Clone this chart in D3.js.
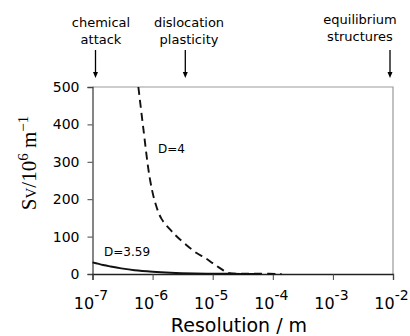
<!DOCTYPE html>
<html>
<head>
<meta charset="utf-8">
<script src="https://cdn.jsdelivr.net/npm/d3@7"></script>
<style>
  body { margin: 0; background: #fff; }
  svg { display: block; }
</style>
</head>
<body>
<div id="chart"></div>
<script>
// data
const resD4 = [5.8e-7, 7e-7, 9e-7, 1.1e-6, 1.4e-6, 2e-6, 2.5e-6, 3.5e-6, 5.4e-6, 7.5e-6, 1e-5, 1.4e-5, 1.8e-5, 3e-5, 6e-5, 1.4e-4]
const svD4 = [500, 390, 255, 192, 148, 117, 101, 80, 56, 43, 29, 13, 3, 1, 0.6, 0.4]
const resD359 = [1e-7, 1.5e-7, 2e-7, 3e-7, 5e-7, 1e-6, 2e-6, 5e-6, 1e-5, 2e-5, 5e-5]
const svD359 = [31, 24, 20, 15, 10, 6, 3.5, 1.6, 0.9, 0.5, 0.2]
const xTicks = [1e-7, 1e-6, 1e-5, 1e-4, 1e-3, 1e-2]
const yTicks = [0, 100, 200, 300, 400, 500]
const notes = [
    { lines: ['chemical', 'attack'], at: 1e-7 },
    { lines: ['dislocation', 'plasticity'], at: 3.5e-6 },
    { lines: ['equilibrium', 'structures'], at: 1e-2 }
]

let width = 410, height = 336
let margin = { top: 87, right: 17, bottom: 62, left: 92 }

let svg = d3.select('#chart').append('svg')
    .attr('width', width)
    .attr('height', height)

let x = d3.scaleLog()
    .domain([1e-7, 1e-2])
    .range([margin.left + 0.5, width - margin.right])
let y = d3.scaleLinear()
    .domain([0, 500])
    .range([height - margin.bottom, margin.top])

// box (top + right in grey)
svg.append('path')
    .attr('d', `M${x(1e-7)},${y(500)}H${x(1e-2)}V${y(0)}`)
    .attr('fill', 'none')
    .attr('stroke', '#999')
    .attr('stroke-width', 1.2)

// y axis
let yAxis = svg.append('g')
    .attr('transform', `translate(${x(1e-7)},0)`)
    .call(d3.axisLeft(y).tickValues(yTicks).tickSize(5).tickPadding(8))
yAxis.select('.domain').attr('stroke', '#444').attr('stroke-width', 1.3)
yAxis.selectAll('.tick line').attr('stroke', '#444')
yAxis.selectAll('.tick text')
    .attr('font-family', 'DejaVu Sans, Verdana, sans-serif')
    .attr('font-size', 14)
    .attr('fill', '#000')

// x axis
let xAxis = svg.append('g')
    .attr('transform', `translate(0,${y(0)})`)
    .call(d3.axisBottom(x).tickValues(xTicks).tickSize(6).tickFormat(''))
xAxis.select('.domain').attr('stroke', '#222').attr('stroke-width', 1.3)
xAxis.selectAll('.tick line').attr('stroke', '#444')
xAxis.selectAll('.tick').each(function (d) {
    let t = d3.select(this).append('text')
        .attr('y', 35)
        .attr('x', -2)
        .attr('text-anchor', 'middle')
        .attr('font-family', 'DejaVu Sans, Verdana, sans-serif')
        .attr('font-size', 16)
        .attr('fill', '#000')
    t.append('tspan').text('10')
    t.append('tspan').attr('dy', -9).attr('font-size', 14)
        .text('-' + Math.round(-Math.log10(d)))
})

// curves
let line = d3.line()
    .x(d => x(d[0]))
    .y(d => y(d[1]))
    .curve(d3.curveCatmullRom)

svg.append('path')
    .datum(d3.zip(resD359, svD359))
    .attr('d', line)
    .attr('fill', 'none')
    .attr('stroke', '#111')
    .attr('stroke-width', 1.9)

svg.append('path')
    .datum(d3.zip(resD4, svD4))
    .attr('d', line)
    .attr('fill', 'none')
    .attr('stroke', '#111')
    .attr('stroke-width', 1.9)
    .attr('stroke-dasharray', '8,5')

// curve labels
svg.append('text')
    .attr('x', 158).attr('y', 153)
    .attr('font-family', 'DejaVu Sans, Verdana, sans-serif')
    .attr('font-size', 12)
    .text('D=4')
svg.append('text')
    .attr('x', 104).attr('y', 256)
    .attr('font-family', 'DejaVu Sans, Verdana, sans-serif')
    .attr('font-size', 12)
    .text('D=3.59')

// axis titles
svg.append('text')
    .attr('transform', 'translate(36,163) rotate(-90)')
    .attr('text-anchor', 'middle')
    .attr('font-family', 'Liberation Serif, DejaVu Serif, serif')
    .attr('font-size', 21)
    .call(t => {
        t.append('tspan').text('S')
        t.append('tspan').attr('font-size', 15).text('V')
        t.append('tspan').text('/10')
        t.append('tspan').attr('dy', -8).attr('font-size', 15).text('6')
        t.append('tspan').attr('dy', 8).text(' m')
        t.append('tspan').attr('dy', -8).attr('font-size', 15).text('\u22121')
    })

svg.append('text')
    .attr('x', 239).attr('y', 332)
    .attr('text-anchor', 'middle')
    .attr('font-family', 'DejaVu Sans, Verdana, sans-serif')
    .attr('font-size', 19)
    .text('Resolution / m')

// top annotations with arrows
let textX = [101, 189, 360]
let arrowX = [x(1e-7) + 3, x(3.5e-6), x(1e-2) - 3]
let rowY = [[27, 44], [27, 44], [24, 41]]
notes.forEach((n, i) => {
    n.lines.forEach((l, j) => {
        svg.append('text')
            .attr('x', textX[i]).attr('y', rowY[i][j])
            .attr('text-anchor', 'middle')
            .attr('font-family', 'DejaVu Sans, Verdana, sans-serif')
            .attr('font-size', 13)
            .text(l)
    })
    svg.append('line')
        .attr('x1', arrowX[i]).attr('x2', arrowX[i])
        .attr('y1', 50).attr('y2', 73)
        .attr('stroke', '#000').attr('stroke-width', 1.3)
    svg.append('path')
        .attr('d', `M${arrowX[i] - 2.5},72L${arrowX[i] + 2.5},72L${arrowX[i]},78Z`)
        .attr('fill', '#000')
})
</script>
</body>
</html>
